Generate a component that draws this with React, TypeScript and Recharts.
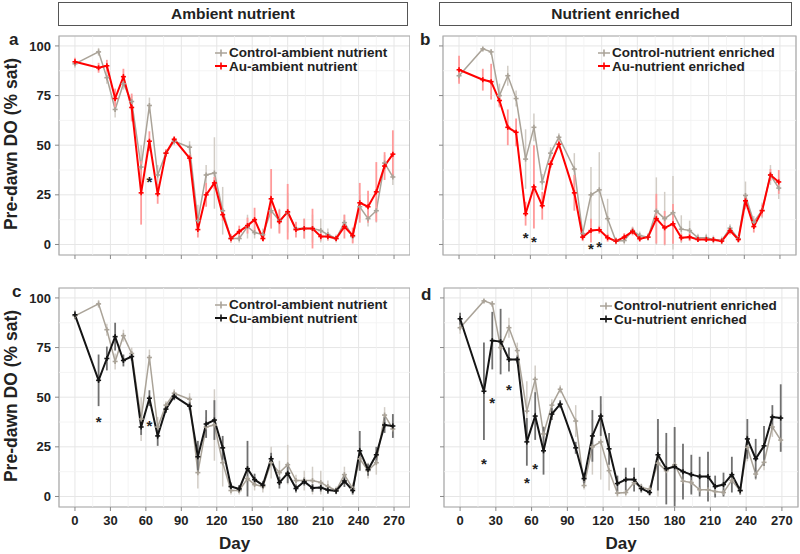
import React from "react";
import {
  CartesianGrid,
  ComposedChart,
  ErrorBar,
  Line,
  ReferenceArea,
  ReferenceLine,
  Scatter,
  XAxis,
  YAxis,
} from "recharts";

// sampling days (same for every panel)
const DAYS = [
  0, 20, 27, 34, 41, 48, 56, 63, 70, 77, 84, 97, 104, 111, 118, 125, 132, 139, 146,
  152, 159, 166, 173, 180, 187, 194, 201, 208, 214, 221, 228, 235, 241, 248, 255, 262, 269,
];

// ambient nutrient
const CTRL_AMB = [
  91, 97, 84, 68, 81, 72, 39, 70, 35, 46, 52, 49, 12, 35, 36, 17, 3, 3, 9,
  6, 5, 17, 12, 16, 8, 8, 8, 7, 5, 3, 11, 4, 19, 13, 17, 41, 34,
];
const CTRL_AMB_ERR = [
  2, 2, 3, 4, 3, 3, 11, 4, 5, 2, 2, 3, 8, 5, 18, 12, 2, 2, 6,
  3, 3, 8, 6, 10, 3, 5, 7, 6, 3, 2, 4, 3, 6, 4, 6, 4, 4,
];
const AU_AMB = [
  92, 89, 90, 73.5, 84.5, 69, 26, 52, 25.5, 46, 53, 43.5, 7.5, 25, 31, 15, 3, 6.5, 9.5,
  12.5, 3, 23, 11.5, 16.5, 7.5, 8, 8, 4, 4, 3, 9, 4.5, 21, 19, 26.5, 39.5, 45.5,
];
const AU_AMB_ERR = [
  2, 2.5, 3, 5, 4, 7, 16, 5, 5, 2, 1.5, 2, 4, 6, 3, 3, 2, 3, 4,
  6, 1.5, 15, 6, 14, 4, 5, 10, 2, 2, 1.5, 6, 4, 10, 8, 15, 7, 12,
];
const CU_AMB = [
  91.5, 58.5, 69.5, 80.5, 68.5, 70.5, 35, 49.5, 30.5, 44, 50.5, 45.5, 20, 36.5, 38.5, 24.5, 5, 3.8, 14,
  8.5, 5.7, 19, 7, 11.7, 4, 7.5, 4.3, 4.5, 3.3, 2.8, 7.8, 3, 23, 13.5, 21, 36, 35.5,
];
const CU_AMB_ERR = [
  2, 13, 6, 7, 3, 2, 4, 4, 5, 2, 2, 2, 8, 7, 10, 6, 2, 2, 14,
  3, 2, 3, 3, 5, 2, 2, 2, 2, 2, 1.5, 3, 2, 10, 3, 4, 4, 6,
];

// nutrient enriched
const CTRL_ENR = [
  85, 98.5, 97, 75, 85, 73.5, 43, 59, 31.5, 46, 54, 38, 5.5, 25, 27.5, 13, 1.7, 2, 7,
  4.5, 3.7, 16.8, 13, 16, 7.7, 7, 3.4, 3.4, 2.5, 2, 8.2, 2.9, 24.7, 11.3, 17.2, 35, 28.4,
];
const CTRL_ENR_ERR = [
  3, 1, 1.5, 6, 5, 4, 15, 7, 4, 3, 2, 8, 2, 14, 19, 10, 2, 2, 2,
  2, 2, 17, 13.5, 18.5, 7, 5, 2, 2, 2, 2, 2, 2, 7, 3, 4, 5, 5.5,
];
const AU_ENR = [
  88, 83, 82, 72.5, 59, 56.5, 15.5, 29, 19.5, 40.5, 50.5, 26, 3.7, 7, 7.4, 3.4, 1.7, 3.7, 6.6,
  2.9, 3.7, 13, 8.4, 10.4, 3.4, 3.7, 2.5, 2.5, 2.4, 1.7, 7, 2.5, 22, 9, 17, 35, 31.5,
];
const AU_ENR_ERR = [
  7, 5.5, 9, 3, 9, 7, 6, 21, 7, 2, 2, 9, 2, 6, 2, 2, 1.5, 2, 2,
  1.5, 1.5, 12.5, 8.5, 10, 2, 2, 1, 1, 1, 1, 2, 1.5, 3, 3, 3, 3, 6,
];
const CU_ENR = [
  89.5, 53, 78.5, 78, 69, 69, 27.5, 40.5, 23, 41.5, 46.5, 24.5, 9, 30.5, 40.5, 24, 6.5, 8.5, 8.5,
  4, 2, 21, 14, 15, 12.5, 11, 10, 10, 5, 6, 11, 3, 29, 19, 25.5, 40, 39.5,
];
const CU_ENR_ERR = [
  3, 24.5, 14.5, 16.5, 6, 2, 12, 12, 12, 3, 2, 3, 3, 13, 10, 8, 4, 6, 6,
  2, 1.5, 18, 18, 20, 14, 10, 10, 12.5, 5.5, 6, 9, 2, 10, 10, 10, 6, 17,
];

// significance asterisks (day, value)
const STAR_A_DAYS = [63];
const STAR_A_VALS = [33];
const STAR_B_DAYS = [56, 63, 111, 118];
const STAR_B_VALS = [5, 3, -1, 0];
const STAR_C_DAYS = [20, 63];
const STAR_C_VALS = [39, 37];
const STAR_D_DAYS = [20, 27, 41, 56, 63];
const STAR_D_VALS = [18, 48.5, 55, 8.5, 15.5];

const X_TICKS = [0, 30, 60, 90, 120, 150, 180, 210, 240, 270];
const X_MINOR = [15, 45, 75, 105, 135, 165, 195, 225, 255];
const Y_TICKS = [0, 25, 50, 75, 100];
const Y_MINOR = [12.5, 37.5, 62.5, 87.5];
const X_DOMAIN = [-13.5, 283.5];
const Y_DOMAIN = [-5.3, 105];

const RED = "#ff0000";
const RED_ERR = "#ff9a9a";
const BLACK = "#141414";
const BLACK_ERR = "#707070";
const GREY = "#aaa398";
const GREY_ERR = "#d2cdc6";

const FONT = '"Liberation Sans", Arial, Helvetica, sans-serif';
const tickStyle = { fontSize: 13, fontWeight: 700, fill: "#222" };

function rows(ctrl: number[], ctrlErr: number[], trt: number[], trtErr: number[]) {
  return DAYS.map((day, i) => ({
    day,
    ctrl: ctrl[i],
    ctrlErr: ctrlErr[i],
    trt: trt[i],
    trtErr: trtErr[i],
  }));
}

function starRows(days: number[], vals: number[]) {
  return days.map((day, i) => ({ day, y: vals[i] }));
}

function PlusDot({ cx, cy, color }: { cx?: number; cy?: number; color: string }) {
  if (cx == null || cy == null) return null;
  return (
    <g>
      <line x1={cx - 2.5} x2={cx + 2.5} y1={cy} y2={cy} stroke={color} strokeWidth={1.6} />
      <line x1={cx} x2={cx} y1={cy - 2.5} y2={cy + 2.5} stroke={color} strokeWidth={1.6} />
    </g>
  );
}

function StarShape(props: any) {
  const { cx, cy } = props;
  return (
    <text x={cx} y={cy + 8} textAnchor="middle" fontSize={15} fontWeight={700} fill="#222">
      *
    </text>
  );
}

type PanelProps = {
  left: number;
  top: number;
  width: number;
  height: number;
  margin: { top: number; right: number; bottom: number; left: number };
  yWidth: number;
  xHeight: number;
  showX: boolean;
  showY: boolean;
  data: ReturnType<typeof rows>;
  stars: { day: number; y: number }[];
  trtColor: string;
  trtErr: string;
};

function Panel(p: PanelProps) {
  return (
    <div style={{ position: "absolute", left: p.left, top: p.top }}>
      <ComposedChart width={p.width} height={p.height} data={p.data} margin={p.margin}>
        <CartesianGrid stroke="#e6e6e6" strokeWidth={1} />
        {X_MINOR.map((x) => (
          <ReferenceLine key={"x" + x} x={x} stroke="#f1f1f1" strokeWidth={0.8} />
        ))}
        {Y_MINOR.map((y) => (
          <ReferenceLine key={"y" + y} y={y} stroke="#f1f1f1" strokeWidth={0.8} />
        ))}
        <XAxis
          dataKey="day"
          type="number"
          domain={X_DOMAIN}
          ticks={X_TICKS}
          allowDataOverflow
          height={p.xHeight}
          axisLine={false}
          tickLine={{ stroke: "#888" }}
          tickSize={4}
          tickMargin={5}
          tick={tickStyle}
          tickFormatter={(v) => (p.showX ? String(v) : "")}
          label={
            p.showX
              ? {
                  value: "Day",
                  position: "insideBottom",
                  offset: 5,
                  style: { fontSize: 17, fontWeight: 700, fill: "#222" },
                }
              : undefined
          }
        />
        <YAxis
          type="number"
          domain={Y_DOMAIN}
          ticks={Y_TICKS}
          allowDataOverflow
          width={p.yWidth}
          axisLine={false}
          tickLine={{ stroke: "#888" }}
          tickSize={4}
          tickMargin={4}
          tick={tickStyle}
          tickFormatter={(v) => (p.showY ? String(v) : "")}
        />
        <ReferenceArea
          x1={X_DOMAIN[0]}
          x2={X_DOMAIN[1]}
          y1={Y_DOMAIN[0]}
          y2={Y_DOMAIN[1]}
          fill="none"
          stroke="#aaaaaa"
          strokeWidth={1.2}
          ifOverflow="visible"
        />
        <Line dataKey="ctrl" stroke="none" dot={false} isAnimationActive={false}>
          <ErrorBar dataKey="ctrlErr" direction="y" width={0} stroke={GREY_ERR} strokeWidth={1.5} />
        </Line>
        <Line
          dataKey="ctrl"
          stroke={GREY}
          strokeWidth={1.5}
          dot={(d: any) => <PlusDot key={"c" + d.index} cx={d.cx} cy={d.cy} color={GREY} />}
          activeDot={false}
          isAnimationActive={false}
        />
        <Line dataKey="trt" stroke="none" dot={false} isAnimationActive={false}>
          <ErrorBar dataKey="trtErr" direction="y" width={0} stroke={p.trtErr} strokeWidth={1.8} />
        </Line>
        <Line
          dataKey="trt"
          stroke={p.trtColor}
          strokeWidth={2}
          dot={(d: any) => <PlusDot key={"t" + d.index} cx={d.cx} cy={d.cy} color={p.trtColor} />}
          activeDot={false}
          isAnimationActive={false}
        />
        <Scatter data={p.stars} dataKey="y" shape={StarShape} isAnimationActive={false} />
      </ComposedChart>
    </div>
  );
}

function LegendBox({
  left,
  top,
  items,
}: {
  left: number;
  top: number;
  items: { name: string; color: string; width: number }[];
}) {
  return (
    <div style={{ position: "absolute", left, top }}>
      {items.map((it) => (
        <div
          key={it.name}
          style={{ display: "flex", alignItems: "center", height: 13.5, whiteSpace: "nowrap" }}
        >
          <svg width={12} height={12} style={{ marginRight: 2 }}>
            <line x1={0} x2={12} y1={6} y2={6} stroke={it.color} strokeWidth={it.width} />
            <line x1={6} x2={6} y1={2.5} y2={9.5} stroke={it.color} strokeWidth={1.6} />
          </svg>
          <span style={{ fontSize: 13.5, fontWeight: 700, color: "#222", lineHeight: "13.5px" }}>
            {it.name}
          </span>
        </div>
      ))}
    </div>
  );
}

function Strip({ left, width, text }: { left: number; width: number; text: string }) {
  return (
    <div
      style={{
        position: "absolute",
        left,
        top: 2,
        width,
        height: 24,
        boxSizing: "border-box",
        border: "1px solid #555",
        background: "#fff",
        textAlign: "center",
        fontSize: 15.5,
        fontWeight: 700,
        lineHeight: "22px",
        color: "#222",
      }}
    >
      {text}
    </div>
  );
}

function Letter({ left, top, text }: { left: number; top: number; text: string }) {
  return (
    <div
      style={{
        position: "absolute",
        left,
        top,
        fontSize: 17,
        fontWeight: 700,
        color: "#222",
        lineHeight: "17px",
      }}
    >
      {text}
    </div>
  );
}

function YTitle({ cx, cy }: { cx: number; cy: number }) {
  return (
    <div
      style={{
        position: "absolute",
        left: cx,
        top: cy,
        transform: "translate(-50%, -50%) rotate(-90deg)",
        whiteSpace: "nowrap",
        fontSize: 17.5,
        fontWeight: 700,
        color: "#222",
        lineHeight: "18px",
      }}
    >
      Pre-dawn DO (% sat)
    </div>
  );
}

export default function App() {
  const dataA = rows(CTRL_AMB, CTRL_AMB_ERR, AU_AMB, AU_AMB_ERR);
  const dataB = rows(CTRL_ENR, CTRL_ENR_ERR, AU_ENR, AU_ENR_ERR);
  const dataC = rows(CTRL_AMB, CTRL_AMB_ERR, CU_AMB, CU_AMB_ERR);
  const dataD = rows(CTRL_ENR, CTRL_ENR_ERR, CU_ENR, CU_ENR_ERR);

  return (
    <div
      style={{
        position: "absolute",
        left: 0,
        top: 0,
        width: 800,
        height: 554,
        background: "#fff",
        fontFamily: FONT,
        overflow: "hidden",
      }}
    >
      <Panel
        left={0}
        top={0}
        width={410}
        height={270}
        margin={{ top: 36, right: 0, bottom: 3, left: 1 }}
        yWidth={58}
        xHeight={12}
        showX={false}
        showY
        data={dataA}
        stars={starRows(STAR_A_DAYS, STAR_A_VALS)}
        trtColor={RED}
        trtErr={RED_ERR}
      />
      <Panel
        left={400}
        top={0}
        width={400}
        height={270}
        margin={{ top: 36, right: 4, bottom: 3, left: 0 }}
        yWidth={43}
        xHeight={12}
        showX={false}
        showY={false}
        data={dataB}
        stars={starRows(STAR_B_DAYS, STAR_B_VALS)}
        trtColor={RED}
        trtErr={RED_ERR}
      />
      <Panel
        left={0}
        top={270}
        width={410}
        height={284}
        margin={{ top: 18, right: 0, bottom: 0, left: 1 }}
        yWidth={58}
        xHeight={47}
        showX
        showY
        data={dataC}
        stars={starRows(STAR_C_DAYS, STAR_C_VALS)}
        trtColor={BLACK}
        trtErr={BLACK_ERR}
      />
      <Panel
        left={400}
        top={270}
        width={400}
        height={284}
        margin={{ top: 18, right: 2, bottom: 0, left: 1 }}
        yWidth={43}
        xHeight={47}
        showX
        showY={false}
        data={dataD}
        stars={starRows(STAR_D_DAYS, STAR_D_VALS)}
        trtColor={BLACK}
        trtErr={BLACK_ERR}
      />

      <Strip left={58} width={350} text="Ambient nutrient" />
      <Strip left={439} width={353} text="Nutrient enriched" />

      <Letter left={9} top={31} text="a" />
      <Letter left={420} top={31} text="b" />
      <Letter left={12} top={283} text="c" />
      <Letter left={421} top={286} text="d" />

      <YTitle cx={11} cy={144} />
      <YTitle cx={11} cy={396} />

      <LegendBox
        left={215}
        top={46}
        items={[
          { name: "Control-ambient nutrient", color: GREY, width: 1.5 },
          { name: "Au-ambient nutrient", color: RED, width: 2 },
        ]}
      />
      <LegendBox
        left={598}
        top={46}
        items={[
          { name: "Control-nutrient enriched", color: GREY, width: 1.5 },
          { name: "Au-nutrient enriched", color: RED, width: 2 },
        ]}
      />
      <LegendBox
        left={215}
        top={298}
        items={[
          { name: "Control-ambient nutrient", color: GREY, width: 1.5 },
          { name: "Cu-ambient nutrient", color: BLACK, width: 2 },
        ]}
      />
      <LegendBox
        left={600}
        top={299}
        items={[
          { name: "Control-nutrient enriched", color: GREY, width: 1.5 },
          { name: "Cu-nutrient enriched", color: BLACK, width: 2 },
        ]}
      />
    </div>
  );
}
